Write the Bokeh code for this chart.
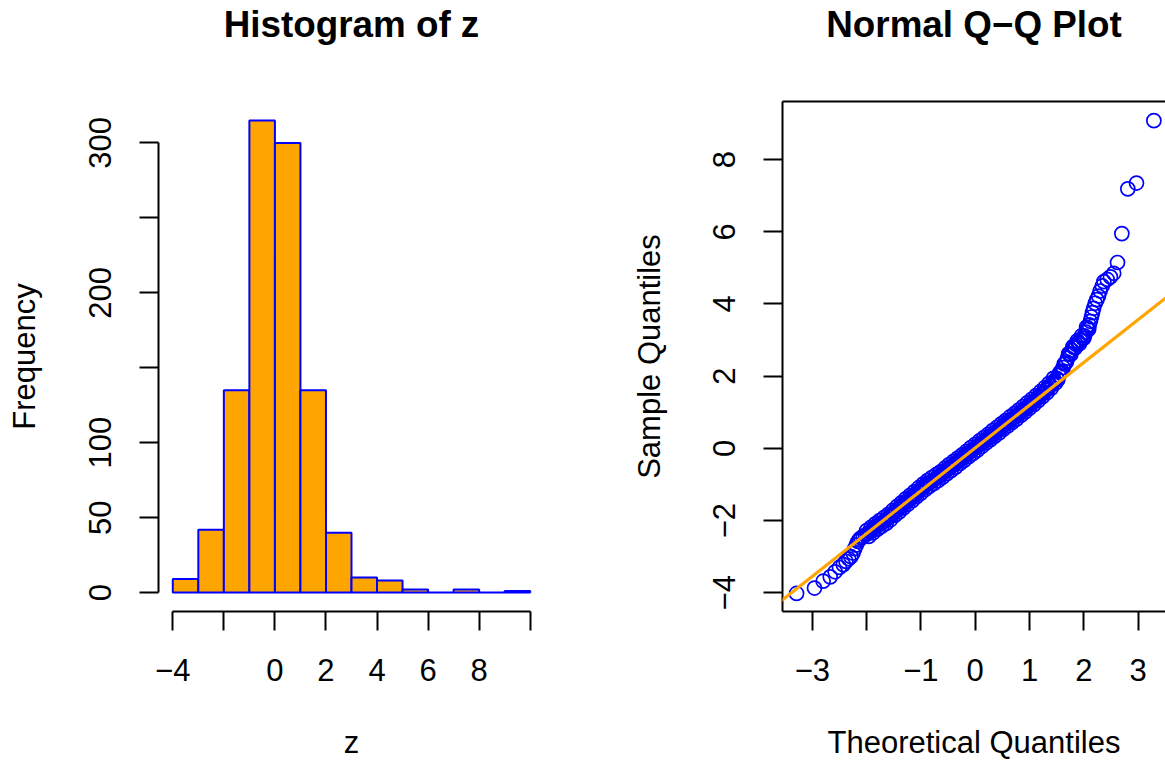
from bokeh.plotting import figure
from bokeh.layouts import row
from bokeh.models import FixedTicker, Slope, LinearAxis, Range1d
from bokeh.embed import file_html
from bokeh.resources import INLINE

# ---------------- data ----------------
bin_edges = [-4, -3, -2, -1, 0, 1, 2, 3, 4, 5, 6, 7, 8, 9, 10]
counts = [9, 42, 135, 315, 300, 135, 40, 10, 8, 2, 0, 2, 0, 1]

hist_xticks = [-4, -2, 0, 2, 4, 6, 8, 10]
hist_xlabels = {-4: "\u22124", -2: "", 0: "0", 2: "2", 4: "4", 6: "6", 8: "8", 10: ""}
hist_yticks = [0, 50, 100, 150, 200, 250, 300]
hist_ylabels = {0: "0", 50: "50", 100: "100", 150: "", 200: "200", 250: "", 300: "300"}

# Q-Q points (theoretical quantile, sample quantile)
theo = [-3.29, -2.96, -2.80, -2.67, -2.58, -2.50, -2.43, -2.38, -2.33, -2.29,
        -2.25, -2.22, -2.19, -2.16, -2.13, -2.10, -2.06, -2.02, -1.98, -1.94,
        -1.90, -1.86, -1.82, -1.78, -1.74, -1.70, -1.66, -1.62, -1.58, -1.54,
        -1.50, -1.46, -1.42, -1.38, -1.34, -1.30, -1.26, -1.22, -1.18, -1.14,
        -1.10, -1.06, -1.02, -0.98, -0.94, -0.90, -0.86, -0.82, -0.78, -0.74,
        -0.70, -0.66, -0.62, -0.58, -0.54, -0.50, -0.46, -0.42, -0.38, -0.34,
        -0.30, -0.26, -0.22, -0.18, -0.14, -0.10, -0.06, -0.02, 0.02, 0.06,
        0.10, 0.14, 0.18, 0.22, 0.26, 0.30, 0.34, 0.38, 0.42, 0.46,
        0.50, 0.54, 0.58, 0.62, 0.66, 0.70, 0.74, 0.78, 0.82, 0.86,
        0.90, 0.94, 0.98, 1.02, 1.06, 1.10, 1.14, 1.18, 1.22, 1.26,
        1.30, 1.34, 1.38, 1.42, 1.46, 1.50, 1.54, 1.58, 1.62, 1.66,
        1.70, 1.74, 1.78, 1.82, 1.86, 1.90, 1.94, 1.98, 2.01, 2.04,
        2.07, 2.10, 2.12, 2.14, 2.16, 2.18, 2.21, 2.24, 2.27, 2.30,
        2.34, 2.37, 2.43, 2.49, 2.55, 2.62, 2.70, 2.81, 2.97, 3.29]
sample = [-4.02, -3.87, -3.68, -3.56, -3.42, -3.30, -3.22, -3.13, -3.06, -3.00,
          -2.90, -2.78, -2.68, -2.58, -2.52, -2.48, -2.44, -2.40, -2.36, -2.31,
          -2.26, -2.21, -2.16, -2.12, -2.08, -2.04, -2.00, -1.95, -1.90, -1.85,
          -1.79, -1.73, -1.68, -1.63, -1.58, -1.52, -1.47, -1.42, -1.37, -1.32,
          -1.27, -1.21, -1.16, -1.11, -1.06, -1.01, -0.97, -0.93, -0.89, -0.85,
          -0.81, -0.77, -0.72, -0.67, -0.62, -0.57, -0.53, -0.48, -0.44, -0.39,
          -0.34, -0.30, -0.25, -0.20, -0.15, -0.10, -0.06, -0.01, 0.03, 0.08,
          0.13, 0.17, 0.22, 0.27, 0.31, 0.36, 0.41, 0.46, 0.50, 0.55,
          0.60, 0.65, 0.69, 0.74, 0.79, 0.84, 0.88, 0.93, 0.98, 1.03,
          1.08, 1.13, 1.18, 1.23, 1.28, 1.33, 1.39, 1.44, 1.50, 1.55,
          1.61, 1.67, 1.73, 1.80, 1.87, 1.94, 2.02, 2.12, 2.24, 2.36,
          2.50, 2.62, 2.72, 2.80, 2.88, 2.94, 2.99, 3.05, 3.12, 3.22,
          3.32, 3.42, 3.52, 3.64, 3.76, 3.88, 4.02, 4.12, 4.22, 4.36,
          4.50, 4.62, 4.68, 4.75, 4.85, 5.15, 5.95, 7.19, 7.35, 9.08]

# extra points giving the spread (thickness) of the dense band
theo_band = [-2.00, -1.96, -1.92, -1.88, -1.84, -1.80, -1.76, -1.72, -1.68, -1.64,
             -1.60, -1.56, -1.52, -1.48, -1.44, -1.40, -1.36, -1.32, -1.28, -1.24,
             -1.20, -1.16, -1.12, -1.08, -1.04, -1.00, -0.96, -0.92, -0.88, -0.84,
             -0.80, -0.76, -0.72, -0.68, -0.64, -0.60, -0.56, -0.52, -0.48, -0.44,
             -0.40, -0.36, -0.32, -0.28, -0.24, -0.20, -0.16, -0.12, -0.08, -0.04,
             0.00, 0.04, 0.08, 0.12, 0.16, 0.20, 0.24, 0.28, 0.32, 0.36,
             0.40, 0.44, 0.48, 0.52, 0.56, 0.60, 0.64, 0.68, 0.72, 0.76,
             0.80, 0.84, 0.88, 0.92, 0.96, 1.00, 1.04, 1.08, 1.12, 1.16,
             1.20, 1.24, 1.28, 1.32, 1.36, 1.40, 1.44, 1.48, 1.52, 1.56,
             1.60, 1.64, 1.68, 1.72, 1.76, 1.80, 1.84, 1.88, 1.92, 1.96,
             2.00, 2.05, 2.09]
sample_band = [-2.28, -2.44, -2.19, -2.34, -2.09, -2.24, -2.00, -2.16, -1.92, -2.08,
               -1.83, -1.98, -1.72, -1.86, -1.61, -1.76, -1.51, -1.65, -1.40, -1.55,
               -1.30, -1.45, -1.20, -1.34, -1.09, -1.24, -0.99, -1.14, -0.89, -1.05,
               -0.81, -0.97, -0.73, -0.89, -0.65, -0.80, -0.55, -0.70, -0.45, -0.61,
               -0.36, -0.52, -0.27, -0.42, -0.18, -0.33, -0.08, -0.23, 0.02, -0.14,
               0.11, -0.05, 0.21, 0.05, 0.30, 0.15, 0.39, 0.24, 0.49, 0.34,
               0.58, 0.43, 0.68, 0.53, 0.77, 0.62, 0.87, 0.72, 0.96, 0.81,
               1.06, 0.91, 1.16, 1.01, 1.26, 1.11, 1.36, 1.21, 1.46, 1.32,
               1.57, 1.43, 1.68, 1.54, 1.80, 1.67, 1.94, 1.81, 1.90, 2.10,
               2.14, 2.34, 2.40, 2.62, 2.60, 2.82, 2.78, 2.98, 2.90, 3.12,
               3.05, 3.36, 3.30]

qq_xticks = [-3, -2, -1, 0, 1, 2, 3]
qq_xlabels = {-3: "\u22123", -2: "", -1: "\u22121", 0: "0", 1: "1", 2: "2", 3: "3"}
qq_yticks = [-4, -2, 0, 2, 4, 6, 8]
qq_ylabels = {-4: "\u22124", -2: "\u22122", 0: "0", 2: "2", 4: "4", 6: "6", 8: "8"}

qqline_slope = 1.185
qqline_intercept = 0.01

FONT = "Liberation Sans"
BASE = "31px"
TITLE = "36.8px"
FIG_H = 764
BORDER_TOP = 101
FRAME_H = 510
BORDER_BOTTOM = FIG_H - BORDER_TOP - FRAME_H


def style_axis(ax, ticks, labels, vertical=False):
    ax.ticker = FixedTicker(ticks=ticks)
    ax.major_label_overrides = labels
    ax.minor_tick_line_color = None
    ax.major_tick_in = 0
    ax.major_tick_out = 19
    ax.axis_line_width = 2
    ax.major_tick_line_width = 2
    ax.axis_line_color = "black"
    ax.major_tick_line_color = "black"
    ax.major_label_text_font = FONT
    ax.major_label_text_font_size = BASE
    ax.major_label_text_color = "black"
    ax.axis_label_text_font = FONT
    ax.axis_label_text_font_size = BASE
    ax.axis_label_text_font_style = "normal"
    ax.axis_label_text_color = "black"
    ax.major_label_standoff = 28
    if vertical:
        ax.major_label_orientation = "vertical"


def label_axis(text, standoff, size, bold=False, line=False):
    """An axis without ticks that only carries a text (title / axis title)."""
    return LinearAxis(ticker=FixedTicker(ticks=[]),
                      axis_line_color="black" if line else None,
                      axis_line_width=2,
                      major_tick_line_color=None, minor_tick_line_color=None,
                      major_tick_out=0, major_tick_in=0, major_label_standoff=0,
                      axis_label=text, axis_label_standoff=standoff,
                      axis_label_text_font=FONT, axis_label_text_font_size=size,
                      axis_label_text_font_style="bold" if bold else "normal",
                      axis_label_text_color="black")


# ---------------- histogram ----------------
p1 = figure(width=583, height=FIG_H, x_range=Range1d(-4.56, 10.56),
            y_range=Range1d(-12.6, 327.6), output_backend="svg",
            toolbar_location=None, min_border_left=158, min_border_right=39,
            min_border_top=BORDER_TOP, min_border_bottom=BORDER_BOTTOM)
p1.outline_line_color = None
p1.xgrid.visible = False
p1.ygrid.visible = False

p1.quad(left=bin_edges[:-1], right=bin_edges[1:], bottom=0, top=counts,
        fill_color="#FFA500", line_color="#0000FF", line_width=2)

xa = p1.below[0]
style_axis(xa, hist_xticks, hist_xlabels)
xa.bounds = (-4, 10)
xa.axis_label = "z"
xa.axis_label_standoff = 41

ya = p1.left[0]
style_axis(ya, hist_yticks, hist_ylabels, vertical=True)
ya.bounds = (0, 300)
p1.add_layout(label_axis("Frequency", 45, BASE), "left")
p1.add_layout(label_axis("Histogram of z", 57, TITLE, bold=True), "above")

# ---------------- Q-Q plot ----------------
p2 = figure(width=582, height=FIG_H, x_range=Range1d(-3.549, 3.504),
            y_range=Range1d(-4.52, 9.61), output_backend="svg",
            toolbar_location=None, min_border_left=199, min_border_right=0,
            min_border_top=BORDER_TOP, min_border_bottom=BORDER_BOTTOM)
p2.outline_line_color = None
p2.xgrid.visible = False
p2.ygrid.visible = False

p2.scatter(theo_band, sample_band, marker="circle", size=14, fill_color=None,
           line_color="#0000FF", line_width=1.7)
p2.scatter(theo, sample, marker="circle", size=14, fill_color=None,
           line_color="#0000FF", line_width=1.7)
p2.add_layout(Slope(gradient=qqline_slope, y_intercept=qqline_intercept,
                    line_color="#FFA500", line_width=3.2))

xb = p2.below[0]
style_axis(xb, qq_xticks, qq_xlabels)
xb.axis_label = "Theoretical Quantiles"
xb.axis_label_standoff = 41

yb = p2.left[0]
style_axis(yb, qq_yticks, qq_ylabels, vertical=True)
yb.axis_label = "Sample Quantiles"
yb.axis_label_standoff = 44

p2.add_layout(label_axis("Normal Q\u2212Q Plot", 57, TITLE, bold=True, line=True),
              "above")

layout = row(p1, p2)
open("out.html", "w").write(file_html(layout, INLINE))
